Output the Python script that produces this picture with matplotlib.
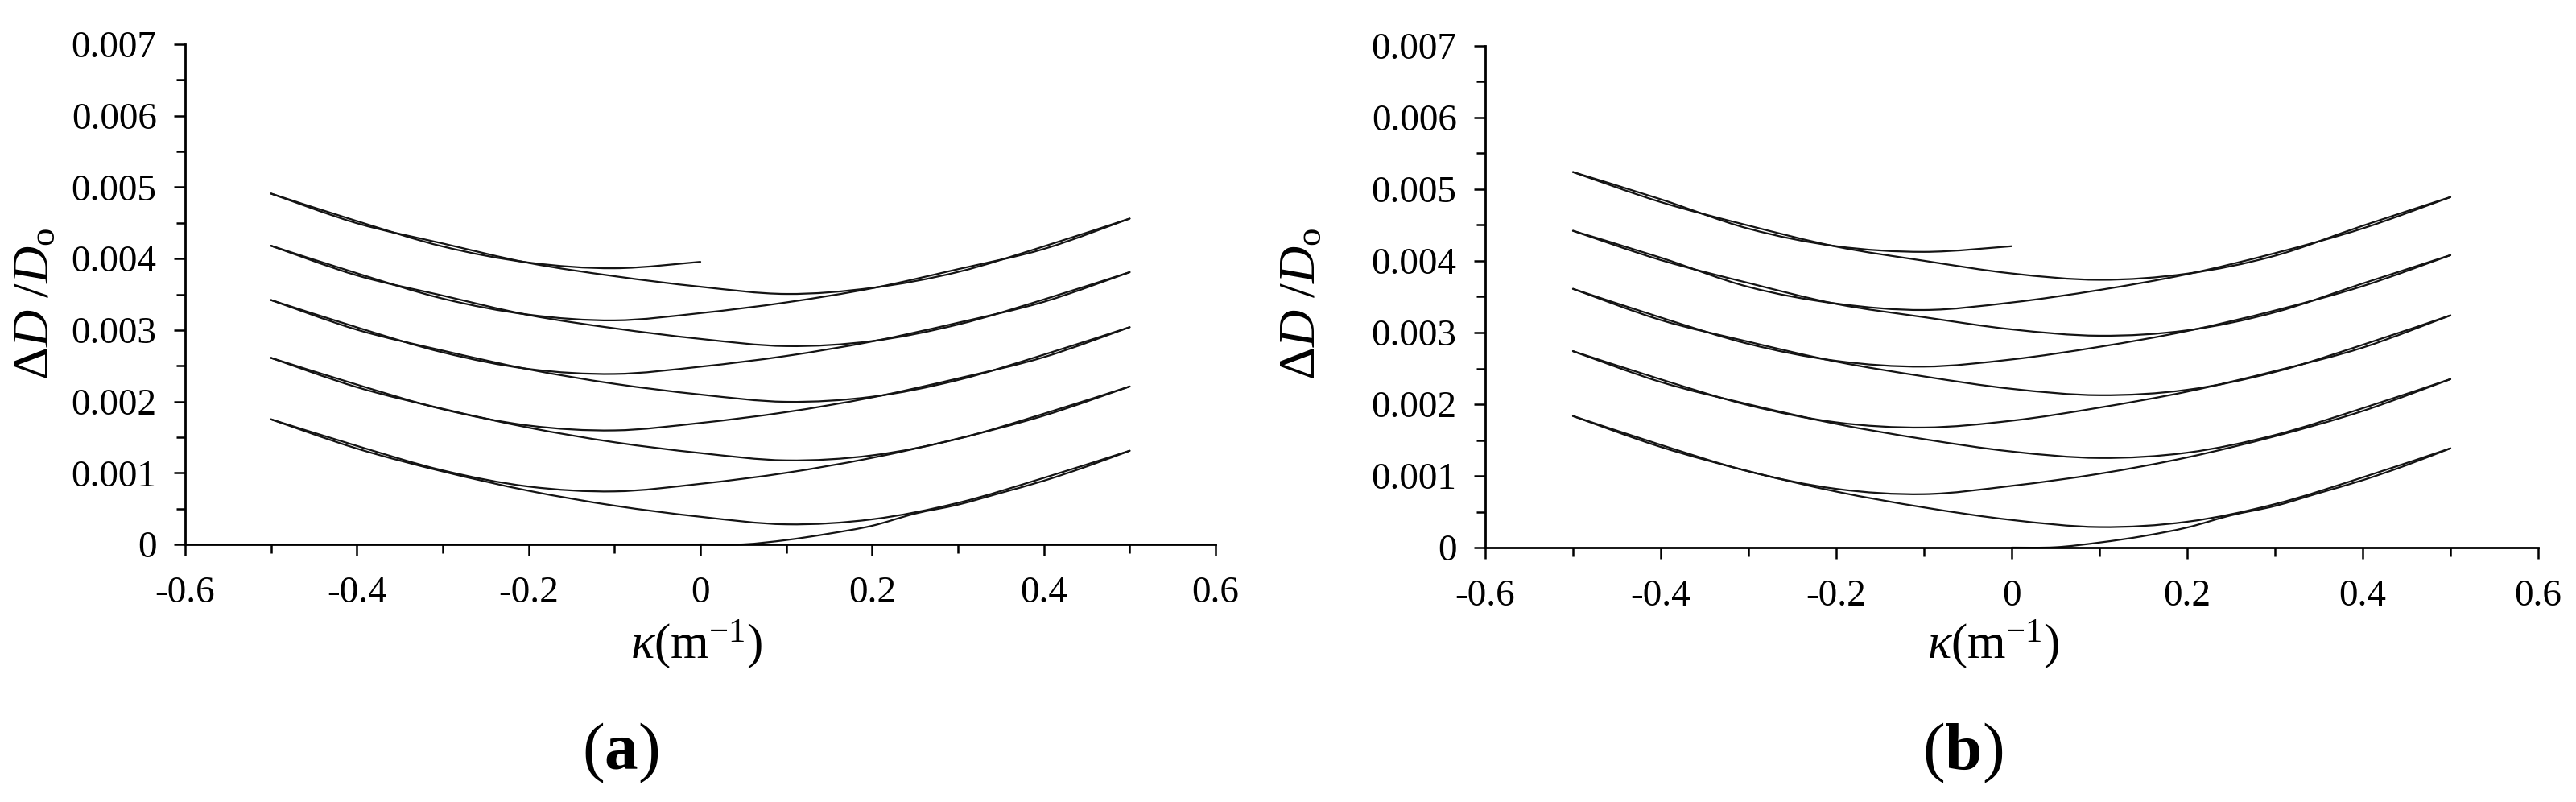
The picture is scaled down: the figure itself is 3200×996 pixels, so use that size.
import numpy as np
import matplotlib
matplotlib.use('Agg')
import matplotlib.pyplot as plt
from matplotlib.ticker import MultipleLocator
from matplotlib.path import Path
from matplotlib.patches import PathPatch

plt.rcParams['font.family'] = ['Liberation Serif', 'DejaVu Serif']
plt.rcParams['mathtext.fontset'] = 'custom'
plt.rcParams['mathtext.rm'] = 'Liberation Serif'
plt.rcParams['mathtext.it'] = 'Liberation Serif:italic'
plt.rcParams['mathtext.bf'] = 'Liberation Serif:bold'
plt.rcParams['axes.unicode_minus'] = False

# curvature grids (m^-1)
kappa_first = [0.0, 0.05, 0.1, 0.15, 0.2, 0.25, 0.3, 0.35, 0.4, 0.45, 0.5]
kappa_down = [0.5, 0.4, 0.3, 0.2, 0.1, 0.0, -0.1, -0.2, -0.3, -0.4, -0.5]
kappa_up = [-0.5, -0.4, -0.3, -0.2, -0.1, 0.0, 0.1, 0.2, 0.3, 0.4, 0.5]
kappa_last = [-0.5, -0.4, -0.3, -0.2, -0.1, 0.0]

# panel (a): ovalization, units of 1e-3
a_first = [0.0, 0.0, 0.06, 0.15, 0.26, 0.43, 0.555, 0.72, 0.89, 1.09, 1.31]
a_down1 = [1.310, 0.930, 0.580, 0.350, 0.280, 0.386, 0.541, 0.750, 1.020, 1.341, 1.750]
a_down2 = [2.210, 1.828, 1.477, 1.245, 1.175, 1.278, 1.429, 1.634, 1.897, 2.200, 2.610]
a_down3 = [3.040, 2.655, 2.300, 2.066, 1.995, 2.097, 2.247, 2.450, 2.712, 3.005, 3.420]
a_down4 = [3.810, 3.428, 3.077, 2.845, 2.775, 2.876, 3.024, 3.210, 3.482, 3.765, 4.180]
a_down5 = [4.560, 4.171, 3.813, 3.590, 3.505, 3.606, 3.754, 3.940, 4.212, 4.495, 4.910]
a_up2 = [1.750, 1.378, 1.035, 0.809, 0.741, 0.847, 1.001, 1.211, 1.480, 1.801, 2.210]
a_up3 = [2.610, 2.236, 1.891, 1.663, 1.595, 1.699, 1.851, 2.057, 2.322, 2.620, 3.040]
a_up4 = [3.420, 3.038, 2.687, 2.455, 2.385, 2.487, 2.637, 2.840, 3.102, 3.395, 3.810]
a_up5 = [4.180, 3.795, 3.440, 3.215, 3.135, 3.237, 3.387, 3.585, 3.852, 4.135, 4.560]
a_last = [4.910, 4.525, 4.170, 3.945, 3.865, 3.955]

# panel (b)
b_first = [0.0, 0.005, 0.07, 0.16, 0.28, 0.45, 0.58, 0.76, 0.94, 1.15, 1.385]
b_down1 = [1.385, 0.979, 0.606, 0.360, 0.286, 0.385, 0.560, 0.781, 1.065, 1.404, 1.835]
b_down2 = [2.350, 1.944, 1.570, 1.324, 1.250, 1.340, 1.513, 1.726, 1.999, 2.310, 2.740]
b_down3 = [3.240, 2.829, 2.450, 2.201, 2.126, 2.215, 2.388, 2.595, 2.872, 3.175, 3.610]
b_down4 = [4.080, 3.685, 3.283, 3.031, 2.956, 3.045, 3.215, 3.400, 3.692, 4.012, 4.420]
b_down5 = [4.890, 4.490, 4.072, 3.822, 3.736, 3.825, 4.002, 4.200, 4.493, 4.821, 5.240]
b_up2 = [1.835, 1.433, 1.063, 0.819, 0.745, 0.861, 1.030, 1.258, 1.553, 1.905, 2.350]
b_up3 = [2.740, 2.347, 1.986, 1.747, 1.675, 1.770, 1.953, 2.176, 2.463, 2.790, 3.240]
b_up4 = [3.610, 3.210, 2.842, 2.605, 2.525, 2.625, 2.801, 3.022, 3.308, 3.648, 4.080]
b_up5 = [4.420, 4.045, 3.637, 3.405, 3.315, 3.420, 3.594, 3.815, 4.108, 4.453, 4.890]
b_last = [5.240, 4.860, 4.450, 4.205, 4.126, 4.205]

xticks = [-0.6, -0.4, -0.2, 0.0, 0.2, 0.4, 0.6]
xtick_labels = ['-0.6', '-0.4', '-0.2', '0', '0.2', '0.4', '0.6']
yticks = [0.0, 0.001, 0.002, 0.003, 0.004, 0.005, 0.006, 0.007]
ytick_labels = ['0', '0.001', '0.002', '0.003', '0.004', '0.005', '0.006', '0.007']


def smooth_branch(k, v):
    # smoothed line through the points (like a spreadsheet "smooth line")
    pts = np.column_stack([k, np.array(v) * 1e-3])
    n = len(pts)
    verts = [pts[0]]
    codes = [Path.MOVETO]
    for i in range(n - 1):
        p0 = pts[i - 1] if i > 0 else pts[i]
        p3 = pts[i + 2] if i + 2 < n else pts[i + 1]
        c1 = pts[i] + (pts[i + 1] - p0) / 6
        c2 = pts[i + 1] - (p3 - pts[i]) / 6
        verts += [c1, c2, pts[i + 1]]
        codes += [Path.CURVE4] * 3
    return Path(verts, codes)


def draw_panel(ax, first, downs, ups, last):
    branches = [(kappa_first, first)]
    for i, d in enumerate(downs):
        branches.append((kappa_down, d))
        if i < len(ups):
            branches.append((kappa_up, ups[i]))
    branches.append((kappa_last, last))
    for k, v in branches:
        ax.add_patch(PathPatch(smooth_branch(k, v), fill=False, edgecolor='#141414',
                               lw=0.8, capstyle='round', joinstyle='round', clip_on=False))


def style_axes(ax):
    ax.set_xlim(-0.6, 0.6)
    ax.set_ylim(0, 0.007)
    for s in ['top', 'right']:
        ax.spines[s].set_visible(False)
    for s in ['left', 'bottom']:
        ax.spines[s].set_linewidth(1.0)
    ax.set_xticks(xticks)
    ax.set_xticklabels(xtick_labels)
    ax.set_yticks(yticks)
    ax.set_yticklabels(ytick_labels)
    ax.xaxis.set_minor_locator(MultipleLocator(0.1))
    ax.yaxis.set_minor_locator(MultipleLocator(0.0005))
    ax.tick_params(which='major', direction='out', length=5.2, width=0.9, labelsize=17)
    ax.tick_params(which='minor', direction='out', length=3.8, width=0.9)
    ax.tick_params(axis='x', which='major', pad=9)
    ax.tick_params(axis='y', which='major', pad=7.5)


fig = plt.figure(figsize=(16, 4.98), dpi=200)
W, H = 3200, 996

ax1 = fig.add_axes([230 / W, 1 - 676 / H, 1280 / W, 621 / H])
ax2 = fig.add_axes([1845 / W, 1 - 680 / H, 1308 / W, 623 / H])

draw_panel(ax1, a_first, [a_down1, a_down2, a_down3, a_down4, a_down5],
           [a_up2, a_up3, a_up4, a_up5], a_last)
draw_panel(ax2, b_first, [b_down1, b_down2, b_down3, b_down4, b_down5],
           [b_up2, b_up3, b_up4, b_up5], b_last)

for ax in (ax1, ax2):
    style_axes(ax)

ylab = r'$\Delta D\ /D_{\mathrm{o}}$'
xlab = r'$\kappa(\mathrm{m}^{-1})$'
fig.text(45 / W, 1 - 377 / H, ylab, rotation=90, ha='center', va='center', fontsize=23)
fig.text(1618 / W, 1 - 377 / H, ylab, rotation=90, ha='center', va='center', fontsize=23)
fig.text(865 / W, 1 - 800 / H, xlab, ha='center', va='center', fontsize=22)
fig.text(2476 / W, 1 - 800 / H, xlab, ha='center', va='center', fontsize=22)
fig.text(771 / W, 1 - 935 / H, r'($\mathbf{a}$)', ha='center', va='center', fontsize=30)
fig.text(2438 / W, 1 - 935 / H, r'($\mathbf{b}$)', ha='center', va='center', fontsize=30)

fig.savefig('out.png', dpi=200)
